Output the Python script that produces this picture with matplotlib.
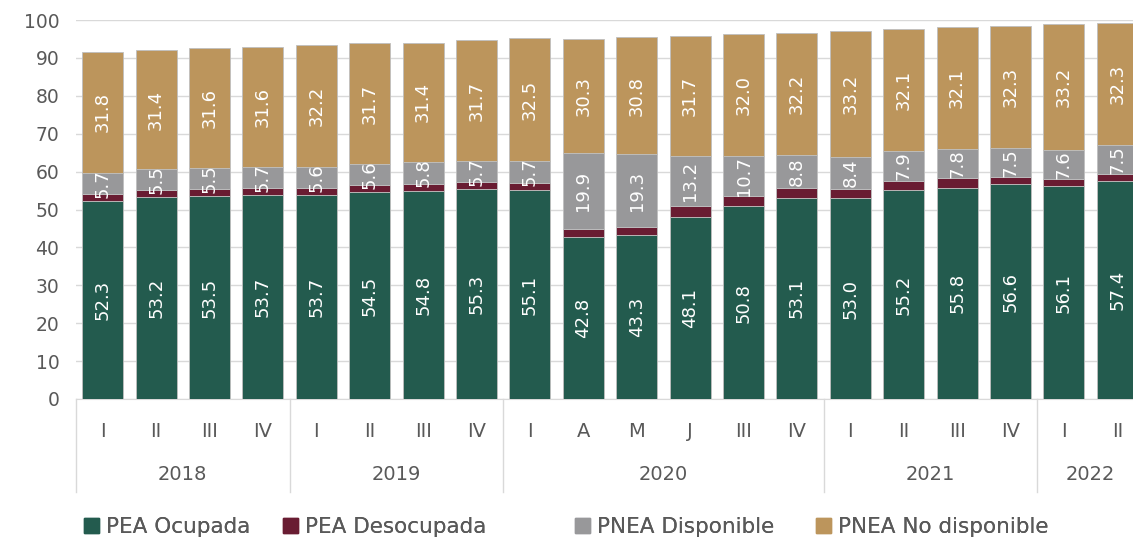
import numpy as np
import matplotlib.pyplot as plt
import matplotlib.patches as mpatches
import matplotlib.transforms as mtransforms

plt.rcParams['font.family'] = ['DejaVu Sans']

periodos = ['I', 'II', 'III', 'IV', 'I', 'II', 'III', 'IV', 'I', 'A', 'M', 'J',
            'III', 'IV', 'I', 'II', 'III', 'IV', 'I', 'II']
anios = ['2018', '2019', '2020', '2021', '2022']
anio_n = [4, 4, 6, 4, 2]

ocupada = [52.3, 53.2, 53.5, 53.7, 53.7, 54.5, 54.8, 55.3, 55.1, 42.8, 43.3, 48.1,
           50.8, 53.1, 53.0, 55.2, 55.8, 56.6, 56.1, 57.4]
desocupada = [1.7, 1.9, 1.9, 1.9, 1.9, 2.0, 2.0, 1.9, 2.0, 2.1, 2.0, 2.8,
              2.7, 2.5, 2.4, 2.4, 2.4, 2.1, 2.0, 2.0]
disponible = [5.7, 5.5, 5.5, 5.7, 5.6, 5.6, 5.8, 5.7, 5.7, 19.9, 19.3, 13.2,
              10.7, 8.8, 8.4, 7.9, 7.8, 7.5, 7.6, 7.5]
no_disponible = [31.8, 31.4, 31.6, 31.6, 32.2, 31.7, 31.4, 31.7, 32.5, 30.3, 30.8, 31.7,
                 32.0, 32.2, 33.2, 32.1, 32.1, 32.3, 33.2, 32.3]

series = [('PEA Ocupada', ocupada, '#235B4E', True),
          ('PEA Desocupada', desocupada, '#691C32', False),
          ('PNEA Disponible', disponible, '#98989A', True),
          ('PNEA No disponible', no_disponible, '#BC955C', True)]

W, H = 1133, 543
fig = plt.figure(figsize=(W / 100, H / 100), dpi=100)
# el eje se sale un poco por la derecha, como en la imagen original
ax = fig.add_axes([76 / W, 1 - 399 / H, (1144 - 76) / W, (399 - 20) / H])

x = np.arange(len(periodos))
bottom = np.zeros(len(x))
for nombre, vals, color, etiqueta in series:
    vals = np.array(vals)
    ax.bar(x, vals, 0.77, bottom=bottom, color=color, edgecolor='#BFBFBF',
           linewidth=0.6, zorder=3)
    if etiqueta:
        for xi, b, v in zip(x, bottom, vals):
            ax.text(xi, b + v / 2, f'{v:.1f}', rotation=90, ha='center', va='center',
                    color='white', fontsize=13, zorder=4)
    bottom += vals

ax.set_xlim(-0.5, len(x) - 0.5)
ax.set_ylim(0, 100)
ax.set_yticks(np.arange(0, 101, 10))
ax.tick_params(axis='y', length=0, labelsize=13.5, labelcolor='#595959', pad=12)
ax.set_xticks([])
ax.grid(axis='y', color='#D9D9D9', linewidth=1, zorder=0)
for s in ['top', 'right', 'left']:
    ax.spines[s].set_visible(False)
ax.spines['bottom'].set_color('#D9D9D9')

# etiquetas de periodo y año
tr = mtransforms.blended_transform_factory(ax.transData, ax.transAxes)
for xi, p in zip(x, periodos):
    ax.text(xi, -0.085, p, transform=tr, ha='center', va='center',
            fontsize=14, color='#595959')
ini = 0
bordes = [-0.5]
for a, n in zip(anios, anio_n):
    ax.text(ini + (n - 1) / 2, -0.2, a, transform=tr, ha='center', va='center',
            fontsize=14, color='#595959')
    ini += n
    bordes.append(ini - 0.5)
for b in bordes[:-1]:
    ax.plot([b, b], [0, -0.245], transform=tr, color='#D9D9D9', linewidth=1,
            clip_on=False)

# leyenda
pos_ley = [78, 277, 569, 810]
for (nombre, vals, color, etiqueta), px in zip(series, pos_ley):
    h = mpatches.Patch(color=color, label=nombre)
    lg = fig.legend(handles=[h], loc='center left',
                    bbox_to_anchor=(px / W - 0.012, 1 - 527 / H), frameon=False,
                    fontsize=15.5, handlelength=0.7, handleheight=0.7,
                    handletextpad=0.35, labelcolor='#595959')
    fig.add_artist(lg)

fig.savefig('out.png', dpi=100)
